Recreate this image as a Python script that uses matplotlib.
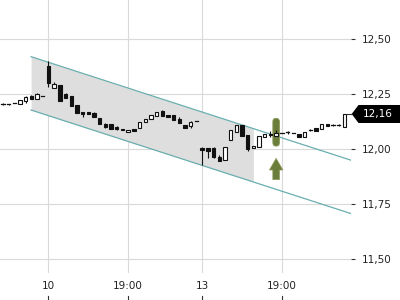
import matplotlib
matplotlib.use('Agg')
import matplotlib.pyplot as plt
import numpy as np
from matplotlib.patches import Rectangle, FancyBboxPatch, Polygon
from matplotlib.transforms import blended_transform_factory
from matplotlib.lines import Line2D

# ---- data (prices) ----
opens = [12.207, 12.206, 12.209, 12.206, 12.218, 12.243, 12.227, 12.242, 12.378, 12.277,
         12.292, 12.250, 12.243, 12.201, 12.168, 12.170, 12.163, 12.140, 12.115, 12.115,
         12.099, 12.092, 12.077, 12.092, 12.095, 12.122, 12.136, 12.151, 12.174, 12.157,
         12.154, 12.139, 12.110, 12.105, 12.127, 12.004, 12.004, 12.004, 11.966, 11.951,
         12.040, 12.077, 12.110, 12.064, 12.004, 12.011, 12.057, 12.070, 12.060, 12.073,
         12.078, 12.072, 12.070, 12.054, 12.087, 12.095, 12.092, 12.115, 12.110, 12.109,
         12.102]
highs = [12.211, 12.206, 12.209, 12.224, 12.242, 12.245, 12.254, 12.242, 12.401, 12.304,
         12.292, 12.254, 12.243, 12.201, 12.169, 12.170, 12.168, 12.140, 12.120, 12.115,
         12.105, 12.092, 12.087, 12.092, 12.122, 12.137, 12.154, 12.169, 12.178, 12.157,
         12.154, 12.145, 12.110, 12.129, 12.127, 12.008, 12.006, 12.008, 11.973, 12.008,
         12.085, 12.112, 12.110, 12.064, 12.013, 12.058, 12.067, 12.084, 12.087, 12.073,
         12.084, 12.072, 12.070, 12.078, 12.090, 12.095, 12.115, 12.115, 12.113, 12.113,
         12.160]
lows = [12.203, 12.202, 12.209, 12.206, 12.212, 12.227, 12.227, 12.242, 12.284, 12.277,
        12.221, 12.234, 12.198, 12.163, 12.146, 12.159, 12.148, 12.113, 12.098, 12.090,
        12.087, 12.086, 12.077, 12.084, 12.095, 12.122, 12.136, 12.151, 12.151, 12.148,
        12.133, 12.120, 12.098, 12.095, 12.127, 11.928, 11.961, 11.961, 11.946, 11.951,
        12.040, 12.077, 12.062, 11.993, 12.004, 12.011, 12.057, 12.054, 12.060, 12.073,
        12.069, 12.072, 12.057, 12.054, 12.083, 12.083, 12.092, 12.105, 12.105, 12.105,
        12.102]
closes = [12.207, 12.206, 12.209, 12.224, 12.236, 12.227, 12.250, 12.242, 12.300, 12.295,
          12.221, 12.234, 12.198, 12.163, 12.162, 12.159, 12.148, 12.113, 12.102, 12.090,
          12.090, 12.086, 12.087, 12.084, 12.122, 12.137, 12.154, 12.169, 12.151, 12.148,
          12.133, 12.120, 12.098, 12.125, 12.127, 11.995, 11.992, 11.966, 11.946, 12.008,
          12.085, 12.112, 12.062, 11.999, 12.013, 12.058, 12.067, 12.066, 12.075, 12.073,
          12.078, 12.072, 12.057, 12.078, 12.087, 12.083, 12.115, 12.105, 12.110, 12.109,
          12.160]

x_tick_pos = [8, 22, 35, 49]
x_tick_labels = ["10", "19:00", "13", "19:00"]
y_ticks = [11.50, 11.75, 12.00, 12.25, 12.50]
y_tick_labels = ["11,50", "11,75", "12,00", "12,25", "12,50"]

channel_x = [4.95, 61.45]
channel_upper = [12.421, 11.947]
channel_lower = [12.178, 11.704]
shade_end = 44.0

signal_idx = 48
signal_bar = [12.014, 12.140]
arrow_top = 11.958
arrow_bottom = 11.861

last_price = closes[-1]
last_label = "12,16"

# ---- figure ----
fig = plt.figure(figsize=(4, 3), dpi=100)
ax = fig.add_axes([0, 0.09, 351 / 400, 0.91])
ax.set_xlim(-0.51, 61.15)
ax.set_ylim(11.436, 12.679)

for s in ax.spines.values():
    s.set_visible(False)

grid_c = '#d9d9d9'
for yv in y_ticks:
    ax.axhline(yv, color=grid_c, lw=0.8, zorder=0)
for xv in x_tick_pos:
    ax.axvline(xv, color=grid_c, lw=0.8, zorder=0)

# channel
cx = np.array(channel_x)
xs = np.linspace(channel_x[0], shade_end, 50)
up_i = np.interp(xs, cx, channel_upper)
lo_i = np.interp(xs, cx, channel_lower)
ax.fill_between(xs, lo_i, up_i, color='#dedede', lw=0, zorder=1)
teal = '#6aaeb0'
ax.plot(cx, channel_upper, color=teal, lw=0.9, zorder=2)
ax.plot(cx, channel_lower, color=teal, lw=0.9, zorder=2)

# signal marker
olive = '#6b7d3b'
bw = 1.16
bar = FancyBboxPatch((signal_idx - bw / 2, signal_bar[0]), bw, signal_bar[1] - signal_bar[0],
                     boxstyle="round,pad=0,rounding_size=0.5", mutation_aspect=0.03,
                     fc=olive, ec='#8a9a5a', lw=0.6, zorder=3)
ax.add_patch(bar)
ax.arrow(signal_idx, arrow_bottom, 0, arrow_top - arrow_bottom, width=1.16,
         head_width=2.36, head_length=0.053, length_includes_head=True,
         fc=olive, ec='#8a9a5a', lw=0.5, zorder=3)

# candles
w = 0.6
for i, (o, h, l, c) in enumerate(zip(opens, highs, lows, closes)):
    ax.plot([i, i], [l, h], color='#111111', lw=0.8, zorder=4, solid_capstyle='butt')
    lo_b, hi_b = min(o, c), max(o, c)
    if hi_b - lo_b < 0.001:
        ax.plot([i - w / 2, i + w / 2], [o, o], color='#111111', lw=0.9, zorder=5)
    else:
        fc = 'white' if c > o else '#111111'
        ax.add_patch(Rectangle((i - w / 2, lo_b), w, hi_b - lo_b, fc=fc, ec='#111111',
                               lw=0.8, zorder=5))

# axes ticks
ax.yaxis.tick_right()
ax.set_yticks(y_ticks)
ax.set_yticklabels(y_tick_labels)
ax.tick_params(axis='y', length=3, width=0.8, color='#333333', pad=5,
               labelsize=7.5, labelcolor='#222222')
ax.set_xticks(x_tick_pos)
ax.set_xticklabels(x_tick_labels)
ax.tick_params(axis='x', length=0, pad=6, labelsize=7.5, labelcolor='#222222')

# bottom tick marks (below labels)
btr = blended_transform_factory(ax.transData, fig.transFigure)
for xv in x_tick_pos:
    fig.add_artist(Line2D([xv, xv], [0.0, 4 / 300], transform=btr, color='#333333', lw=0.8))

# last price label
yc = fig.transFigure.inverted().transform(ax.transData.transform((0, last_price)))[1]
hh = 9 / 300
poly = Polygon([(351.7 / 400, yc), (358.5 / 400, yc + hh), (1.0, yc + hh),
                (1.0, yc - hh), (358.5 / 400, yc - hh)], closed=True,
               transform=fig.transFigure, fc='black', ec='none')
fig.add_artist(poly)
fig.add_artist(Line2D([346.5 / 400, 350.5 / 400], [yc, yc], transform=fig.transFigure,
                      color='#333333', lw=0.8))
fig.text(363 / 400, yc, last_label, color='white', fontsize=7.5, va='center', ha='left')

fig.savefig('out.png', dpi=100)
